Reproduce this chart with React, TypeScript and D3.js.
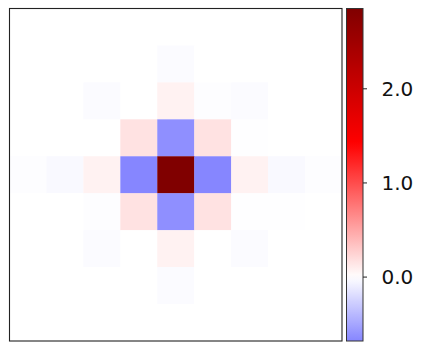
import React from 'react'
import * as d3 from 'd3'

// 9x9 field, row 0 at the top
const rowLabels = d3.range(9)
const colLabels = d3.range(9)
const grid = [
  [0.002, 0.002, 0.002, 0.002, 0.002, 0.002, 0.002, 0.002, 0.002],
  [0.002, 0.002, 0.002, 0.002, -0.025, 0.002, 0.002, 0.002, 0.002],
  [0.002, 0.002, -0.025, 0.002, 0.075, -0.01, -0.02, 0.002, 0.002],
  [0.002, 0.002, 0.002, 0.16, -0.627, 0.16, -0.008, 0.002, 0.002],
  [-0.01, -0.035, 0.07, -0.679, 2.853, -0.679, 0.07, -0.035, -0.01],
  [0.002, 0.002, -0.01, 0.16, -0.627, 0.16, -0.005, -0.005, 0.002],
  [0.002, 0.002, -0.025, 0.002, 0.075, 0.002, -0.02, 0.002, 0.002],
  [0.002, 0.002, 0.002, 0.002, -0.022, 0.002, 0.002, 0.002, 0.002],
  [0.002, 0.002, 0.002, 0.002, 0.002, 0.002, 0.002, 0.002, 0.002]
]
const cbarTicks = [0, 1, 2]

// matplotlib "seismic"
const seismic = d3
  .scaleLinear<string>()
  .domain([0, 0.25, 0.5, 0.75, 1])
  .range(['rgb(0,0,77)', 'rgb(0,0,255)', 'rgb(255,255,255)', 'rgb(255,0,0)', 'rgb(128,0,0)'])
  .interpolate(d3.interpolateRgb)

export default function App() {
  const flat = grid.flat()
  const vmin = d3.min(flat) as number
  const vmax = d3.max(flat) as number
  const lim = Math.max(Math.abs(vmin), Math.abs(vmax))
  const norm = d3.scaleLinear().domain([-lim, lim]).range([0, 1])
  const color = (v: number) => seismic(norm(v))

  const left = 9.5
  const top = 8.5
  const size = 332.5

  const x = d3.scaleBand<number>().domain(colLabels).range([left, left + size])
  const y = d3.scaleBand<number>().domain(rowLabels).range([top, top + size])

  const cbX = 346.5
  const cbW = 16.5
  const cbY = d3.scaleLinear().domain([vmin, vmax]).range([top + size, top])

  const stops = d3.range(0, 1.0001, 0.02).map(f => {
    const v = vmin + f * (vmax - vmin)
    return {offset: `${(f * 100).toFixed(1)}%`, c: color(v)}
  })

  return (
    <svg width={423} height={350} style={{display: 'block', position: 'absolute', left: 0, top: 0}}>
      <defs>
        <linearGradient id="cbar" x1="0" x2="0" y1="1" y2="0">
          {stops.map((s, i) => (
            <stop key={i} offset={s.offset} stopColor={s.c} />
          ))}
        </linearGradient>
      </defs>
      <rect x={0} y={0} width={423} height={350} fill="#fff" />
      {grid.map((row, r) =>
        row.map((v, c) => (
          <rect
            key={`${r}-${c}`}
            x={x(c)}
            y={y(r)}
            width={x.bandwidth() + 0.3}
            height={y.bandwidth() + 0.3}
            fill={color(v)}
          />
        ))
      )}
      <rect x={left} y={top} width={size} height={size} fill="none" stroke="#222" strokeWidth={1.1} />

      <rect x={cbX} y={top} width={cbW} height={size} fill="url(#cbar)" stroke="#333" strokeWidth={1} />
      {cbarTicks.map(t => (
        <g key={t} transform={`translate(0,${cbY(t)})`}>
          <line x1={cbX + cbW} x2={cbX + cbW + 4} stroke="#222" strokeWidth={1} />
          <text
            x={381.5}
            dy="0.36em"
            fontFamily="DejaVu Sans"
            fontSize={20}
            fill="#111"
          >
            {d3.format('.1f')(t)}
          </text>
        </g>
      ))}
    </svg>
  )
}
